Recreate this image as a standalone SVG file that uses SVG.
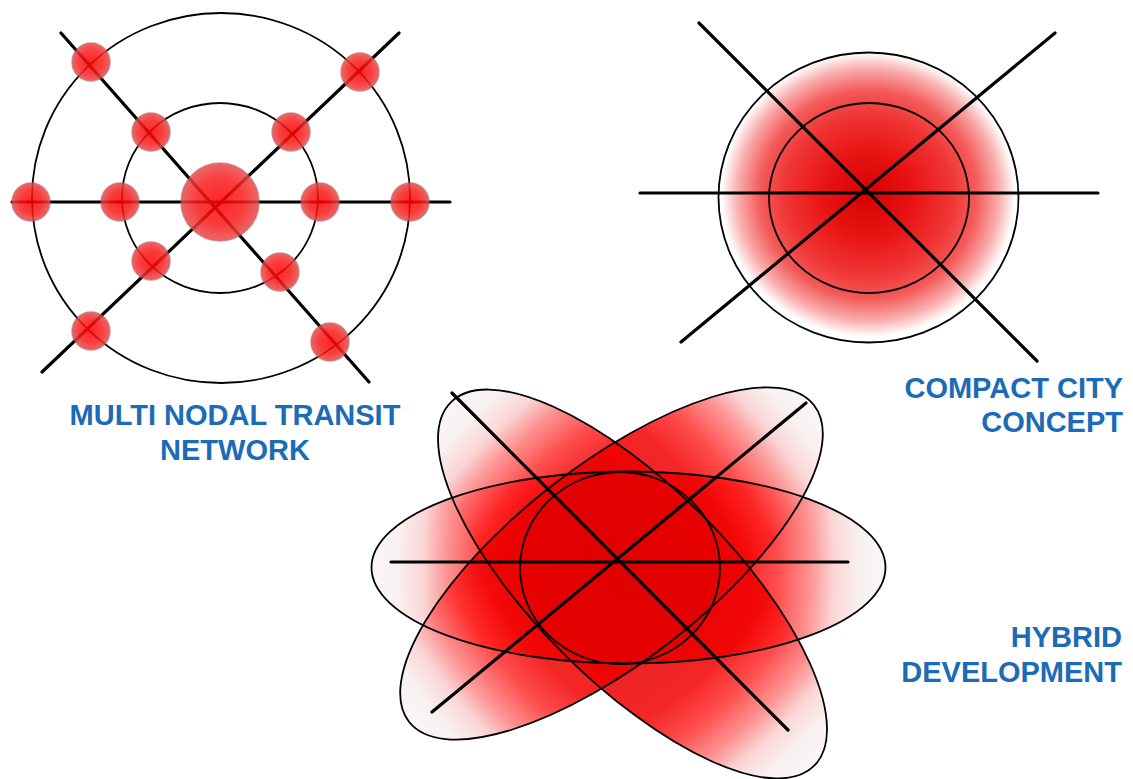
<svg xmlns="http://www.w3.org/2000/svg" width="1133" height="779" viewBox="0 0 1133 779">
  <style>
    .lbl { font-family: "Liberation Sans", Arial, sans-serif; font-weight: bold; font-size: 29px; fill: #1b6bb6; }
    .ring { fill: none; stroke: #000; stroke-width: 1.8; }
    .road { stroke: #000; stroke-width: 3.2; stroke-linecap: round; fill: none; }
    .node { fill: url(#nodeGrad); stroke: #b05a5a; stroke-opacity: 0.7; stroke-width: 1.5; opacity: 0.85; }
    .orbit { fill: none; stroke: #000; stroke-width: 1.8; }
  </style>
  <defs>
    <radialGradient id="nodeGrad" cx="0.5" cy="0.5" r="0.5">
      <stop offset="0" stop-color="#ff0000"/>
      <stop offset="0.6" stop-color="#fa1c1c"/>
      <stop offset="1" stop-color="#e84c4c"/>
    </radialGradient>
    <radialGradient id="compactGrad" cx="0.5" cy="0.49" r="0.5">
      <stop offset="0" stop-color="#d60000"/>
      <stop offset="0.3" stop-color="#e81414"/>
      <stop offset="0.55" stop-color="#f03434"/>
      <stop offset="0.72" stop-color="#f45a5a"/>
      <stop offset="0.87" stop-color="#f9adad"/>
      <stop offset="0.98" stop-color="#ffffff"/>
    </radialGradient>
    <radialGradient id="orbitGrad" gradientUnits="userSpaceOnUse" cx="0" cy="0" r="257" gradientTransform="scale(1,1.7)">
      <stop offset="0" stop-color="#e00000" stop-opacity="0.88"/>
      <stop offset="0.45" stop-color="#f20000" stop-opacity="0.85"/>
      <stop offset="0.58" stop-color="#ff2020" stop-opacity="0.8"/>
      <stop offset="0.7" stop-color="#fc6a6a" stop-opacity="0.75"/>
      <stop offset="0.8" stop-color="#f9cccc" stop-opacity="0.8"/>
      <stop offset="0.9" stop-color="#f8eeee" stop-opacity="0.85"/>
      <stop offset="1" stop-color="#faf5f5" stop-opacity="0.9"/>
    </radialGradient>
  </defs>

  <!-- Multi nodal transit network -->
  <g id="multi-nodal">
    <ellipse class="ring" cx="221" cy="198" rx="189" ry="185"/>
    <ellipse class="ring" cx="220" cy="198" rx="98" ry="95"/>
    <g id="multi-roads">
      <line class="road" x1="12" y1="202" x2="450" y2="202"/>
      <line class="road" x1="61" y1="33" x2="369" y2="382"/>
      <line class="road" x1="399" y1="33" x2="42" y2="372"/>
    </g>
    <g id="multi-nodes">
      <circle id="hub" class="node" cx="220" cy="202" r="39"/>
      <circle class="node" cx="91" cy="62" r="19"/>
      <circle class="node" cx="360" cy="72" r="19"/>
      <circle class="node" cx="151" cy="132" r="19"/>
      <circle class="node" cx="291" cy="132" r="19"/>
      <circle class="node" cx="31" cy="202" r="19"/>
      <circle class="node" cx="120" cy="202" r="19"/>
      <circle class="node" cx="320" cy="202" r="19"/>
      <circle class="node" cx="410" cy="202" r="19"/>
      <circle class="node" cx="151" cy="261" r="19"/>
      <circle class="node" cx="280" cy="272" r="19"/>
      <circle class="node" cx="91" cy="331" r="19"/>
      <circle class="node" cx="330" cy="342" r="19"/>
    </g>
    <text class="lbl" x="235" y="425" text-anchor="middle">MULTI NODAL TRANSIT</text>
    <text class="lbl" x="235" y="460" text-anchor="middle">NETWORK</text>
  </g>

  <!-- Compact city concept -->
  <g id="compact-city">
    <ellipse cx="868.5" cy="197.5" rx="150" ry="145" fill="url(#compactGrad)"/>
    <ellipse class="ring" cx="868.5" cy="197.5" rx="150" ry="145"/>
    <ellipse class="ring" cx="869" cy="198" rx="100" ry="95"/>
    <g id="compact-roads">
      <line class="road" x1="640" y1="193" x2="1098" y2="193"/>
      <line class="road" x1="699" y1="23" x2="1037" y2="361"/>
      <line class="road" x1="1055" y1="33" x2="681" y2="342"/>
    </g>
    <text class="lbl" x="1123" y="398" text-anchor="end">COMPACT CITY</text>
    <text class="lbl" x="1123" y="432" text-anchor="end">CONCEPT</text>
  </g>

  <!-- Hybrid development -->
  <g id="hybrid">
    <g id="hybrid-fills">
      <ellipse cx="0" cy="0" rx="257" ry="96" fill="url(#orbitGrad)" transform="translate(628.5,567.5)"/>
      <ellipse cx="0" cy="0" rx="257" ry="98" fill="url(#orbitGrad)" transform="translate(632.5,584) rotate(45)"/>
      <ellipse cx="0" cy="0" rx="257" ry="98" fill="url(#orbitGrad)" transform="translate(611.5,563.5) rotate(-38)"/>
      <ellipse cx="620" cy="568" rx="100" ry="96" fill="#e00000" fill-opacity="0.5"/>
    </g>
    <g id="hybrid-outlines">
      <ellipse class="orbit" cx="0" cy="0" rx="257" ry="96" transform="translate(628.5,567.5)"/>
      <ellipse class="orbit" cx="0" cy="0" rx="257" ry="98" transform="translate(632.5,584) rotate(45)"/>
      <ellipse class="orbit" cx="0" cy="0" rx="257" ry="98" transform="translate(611.5,563.5) rotate(-38)"/>
      <ellipse class="orbit" cx="620" cy="568" rx="100" ry="96"/>
    </g>
    <g id="hybrid-roads">
      <line class="road" x1="391" y1="562" x2="848" y2="562"/>
      <line class="road" x1="452" y1="393" x2="788" y2="730"/>
      <line class="road" x1="806" y1="403" x2="432" y2="712"/>
    </g>
    <text class="lbl" x="1122" y="647" text-anchor="end">HYBRID</text>
    <text class="lbl" x="1122" y="682" text-anchor="end">DEVELOPMENT</text>
  </g>
</svg>
